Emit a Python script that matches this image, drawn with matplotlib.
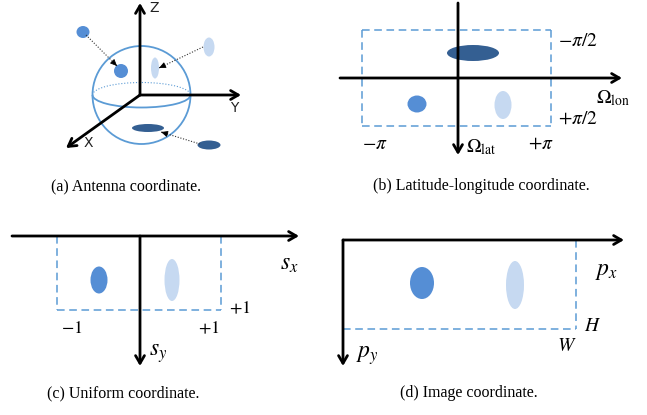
import matplotlib.pyplot as plt
from matplotlib.patches import Ellipse, Circle, Arc

plt.rcParams['mathtext.fontset'] = 'stix'

# colours of the three objects
MID = '#558ed5'
LIGHT = '#c6d9f1'
DARK = '#345f92'
EDGE = '#5b9bd5'

# (a) antenna coordinate: axes, sphere and blobs (pixel coords)
a_origin = (140, 95)
a_axis_ends = {'Z': (140, 3), 'Y': (241, 95), 'X': (66, 148)}
a_axis_labels = {'Z': (154, 8), 'Y': (234, 108), 'X': (88, 143)}
a_sphere = (141.5, 95, 49)
a_blobs = [  # x, y, w, h, colour
    (83, 32, 13, 12, MID), (121, 71, 14, 14, MID),
    (209, 47, 11, 19, LIGHT), (155, 68, 8, 21, LIGHT),
    (148, 128, 32, 8, DARK), (209, 145, 23, 9, DARK),
]
a_links = [((86, 35), (117, 66)), ((203, 47), (159, 68)), ((200, 144), (161, 132))]

# (b) latitude-longitude
b_hax = ((340, 78), (622, 78))
b_vax = ((458, 3), (458, 155))
b_box = (362, 30, 551, 126)
b_blobs = [(473, 53, 52, 16, DARK), (417, 104, 19, 17, MID), (503, 105, 17, 28, LIGHT)]
b_labels = [(558, 40, r'$-\pi/2$', 'left'), (558, 118, r'$+\pi/2$', 'left'),
            (596, 98, r'$\Omega_{\rm lon}$', 'left'), (375, 143, r'$-\pi$', 'center'),
            (541, 143, r'$+\pi$', 'center'), (466, 147, r'$\Omega_{\rm lat}$', 'left')]

# (c) uniform
c_hax = ((12, 236), (299, 236))
c_vax = ((140, 236), (140, 366))
c_box = (57, 236, 221, 310)
c_blobs = [(99, 280, 17, 27, MID), (172, 280, 15, 42, LIGHT)]
c_labels = [(289, 263, r'$s_x$', 17), (240, 308, r'$+1$', 13), (72, 328, r'$-1$', 13),
            (209, 328, r'$+1$', 13), (158, 353, r'$s_y$', 17)]

# (d) image
d_hax = ((343, 240), (624, 240))
d_vax = ((343, 240), (343, 366))
d_box = (343, 240, 576, 329)
d_blobs = [(422, 283, 24, 32, MID), (515, 285, 18, 48, LIGHT)]
d_labels = [(607, 270, r'$p_x$', 17), (593, 325, r'$H$', 14), (567, 345, r'$W$', 14),
            (367, 355, r'$p_y$', 17)]

captions = [(126, 186, '(a) Antenna coordinate.'), (481, 186, '(b) Latitude-longitude coordinate.'),
            (123, 393, '(c) Uniform coordinate.'), (469, 393, '(d) Image coordinate.')]

fig = plt.figure(figsize=(6.47, 4.15), dpi=100)
ax = fig.add_axes([0, 0, 1, 1])
ax.set_xlim(0, 647)
ax.set_ylim(415, 0)
ax.axis('off')


def arrow(p0, p1):
    ax.annotate('', xy=p1, xytext=p0,
                arrowprops=dict(arrowstyle='->,head_length=0.55,head_width=0.32',
                                lw=2, color='black', shrinkA=0, shrinkB=0))


def blobs(lst):
    for x, y, w, h, c in lst:
        ax.add_patch(Ellipse((x, y), w, h, color=c, lw=0))


def dashed_box(x0, y0, x1, y1, sides):
    pts = {'l': ((x0, x0), (y0, y1)), 'r': ((x1, x1), (y0, y1)),
           't': ((x0, x1), (y0, y0)), 'b': ((x0, x1), (y1, y1))}
    for s in sides:
        xs, ys = pts[s]
        ax.plot(xs, ys, color=EDGE, lw=1.1, ls=(0, (5, 3)))


# (a)
cx, cy, r = a_sphere
ax.add_patch(Circle((cx, cy), r, fill=False, ec=EDGE, lw=1.3))
# y axis is inverted, so 180..360 is the upper (back) half
ax.add_patch(Arc((cx, cy), 2 * r, 25, theta1=180, theta2=360, ec=EDGE, lw=0.8, ls=':'))
ax.add_patch(Arc((cx, cy), 2 * r, 25, theta1=0, theta2=180, ec=EDGE, lw=1.3))
for k, end in a_axis_ends.items():
    arrow(a_origin, end)
    ax.text(*a_axis_labels[k], k, fontsize=10, family='DejaVu Sans', color='#222222',
            ha='center', va='center')
blobs(a_blobs)
for p0, p1 in a_links:
    ax.plot([p0[0], p1[0]], [p0[1], p1[1]], color='#333333', lw=0.8, ls=(0, (1, 1.5)))
    ax.annotate('', xy=p1, xytext=(p1[0] + (p0[0] - p1[0]) * 0.01, p1[1] + (p0[1] - p1[1]) * 0.01),
                arrowprops=dict(arrowstyle='-|>,head_length=0.4,head_width=0.18',
                                color='black', lw=0.6, shrinkA=0, shrinkB=0))

# (b)
dashed_box(*b_box, 'lrtb')
blobs(b_blobs)
arrow(*b_hax)
arrow(*b_vax)
for x, y, s, ha in b_labels:
    ax.text(x, y, s, fontsize=14, ha=ha, va='center')

# (c)
dashed_box(*c_box, 'lrb')
blobs(c_blobs)
arrow(*c_hax)
arrow(*c_vax)
for x, y, s, fs in c_labels:
    ax.text(x, y, s, fontsize=fs, ha='center', va='center')

# (d)
dashed_box(*d_box, 'rb')
blobs(d_blobs)
arrow(*d_hax)
arrow(*d_vax)
for x, y, s, fs in d_labels:
    ax.text(x, y, s, fontsize=fs, ha='center', va='center')

for x, y, s in captions:
    ax.text(x, y, s, fontsize=11.5, family='Liberation Serif', ha='center', va='center')

fig.savefig('out.png', dpi=100)
